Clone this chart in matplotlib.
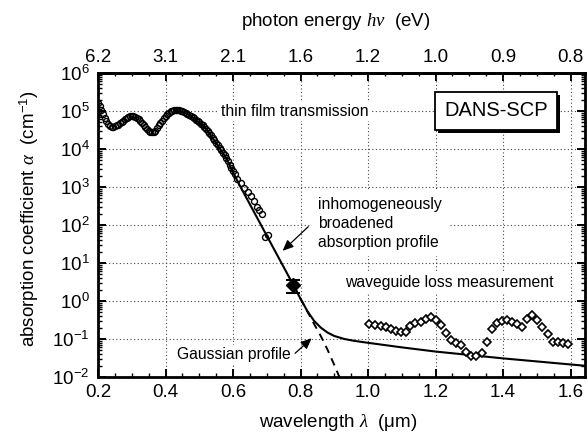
import matplotlib
matplotlib.use('Agg')
import matplotlib.pyplot as plt
import numpy as np
from matplotlib.ticker import FixedLocator, MultipleLocator, LogLocator, NullFormatter, FuncFormatter
from matplotlib import patheffects

plt.rcParams['font.family'] = ['Liberation Sans', 'DejaVu Sans']
plt.rcParams['mathtext.fontset'] = 'custom'
plt.rcParams['mathtext.rm'] = 'Liberation Sans'
plt.rcParams['mathtext.it'] = 'Liberation Serif:italic'
plt.rcParams['mathtext.bf'] = 'Liberation Sans:bold'

# ---------------- data ----------------
# thin film transmission (open circles): wavelength (um), log10(alpha / cm^-1)
film_wl = [0.200, 0.205, 0.210, 0.215, 0.220, 0.225, 0.230, 0.235, 0.240, 0.245,
           0.250, 0.255, 0.260, 0.265, 0.270, 0.275, 0.280, 0.285, 0.290, 0.295,
           0.300, 0.305, 0.310, 0.315, 0.320, 0.325, 0.330, 0.335, 0.340, 0.345,
           0.350, 0.355, 0.360, 0.365, 0.370, 0.375, 0.380, 0.385, 0.390, 0.395,
           0.400, 0.405, 0.410, 0.415, 0.420, 0.425, 0.430, 0.435, 0.440, 0.445,
           0.450, 0.455, 0.460, 0.465, 0.470, 0.475, 0.480, 0.485, 0.490, 0.495,
           0.500, 0.505, 0.510, 0.515, 0.520, 0.525, 0.530, 0.535, 0.540, 0.545,
           0.550, 0.555, 0.560, 0.565, 0.570, 0.575, 0.580, 0.585, 0.590, 0.595,
           0.600, 0.605, 0.613, 0.623, 0.634, 0.644, 0.652, 0.662, 0.672, 0.678,
           0.685, 0.695, 0.705]
film_log = [5.22, 5.12, 5.03, 4.92, 4.82, 4.73, 4.66, 4.61, 4.59, 4.59,
            4.60, 4.62, 4.64, 4.68, 4.72, 4.75, 4.78, 4.82, 4.85, 4.87,
            4.88, 4.87, 4.85, 4.82, 4.78, 4.73, 4.68, 4.63, 4.58, 4.53,
            4.48, 4.45, 4.44, 4.45, 4.48, 4.54, 4.62, 4.69, 4.75, 4.82,
            4.88, 4.92, 4.96, 4.99, 5.01, 5.02, 5.03, 5.03, 5.02, 5.01,
            4.99, 4.97, 4.95, 4.93, 4.90, 4.87, 4.84, 4.81, 4.77, 4.74,
            4.70, 4.66, 4.62, 4.58, 4.53, 4.48, 4.43, 4.37, 4.30, 4.23,
            4.16, 4.10, 4.03, 3.97, 3.90, 3.83, 3.76, 3.68, 3.59, 3.50,
            3.41, 3.34, 3.20, 3.10, 2.98, 2.88, 2.77, 2.64, 2.48, 2.39,
            2.29, 1.68, 1.74]

# inhomogeneously broadened absorption profile (solid line)
fit_wl = [0.43, 0.46, 0.49, 0.52, 0.55, 0.58, 0.60, 0.62, 0.64, 0.66, 0.68, 0.70,
          0.72, 0.74, 0.76, 0.78, 0.80, 0.82, 0.84, 0.86, 0.88, 0.90, 0.93, 0.96,
          1.00, 1.10, 1.20, 1.30, 1.40, 1.50, 1.65]
fit_log = [5.03, 4.95, 4.77, 4.53, 4.16, 3.76, 3.39, 3.04, 2.71, 2.38, 2.05, 1.72,
           1.39, 1.06, 0.73, 0.40, 0.06, -0.26, -0.52, -0.70, -0.83, -0.92, -1.00, -1.05,
           -1.10, -1.22, -1.33, -1.42, -1.51, -1.59, -1.71]

# Gaussian profile (dashed line)
gauss_wl = [0.78, 0.80, 0.82, 0.84, 0.86, 0.88, 0.90, 0.92]
gauss_log = [0.40, 0.06, -0.27, -0.60, -0.92, -1.28, -1.68, -2.10]

# waveguide loss measurement (open diamonds)
wg_wl = [1.003, 1.021, 1.038, 1.053, 1.068, 1.082, 1.097, 1.112, 1.124, 1.139,
         1.156, 1.172, 1.187, 1.201, 1.216, 1.231, 1.246, 1.261, 1.275, 1.290,
         1.305, 1.320, 1.337, 1.352, 1.366, 1.381, 1.396, 1.411, 1.426, 1.441,
         1.457, 1.472, 1.487, 1.502, 1.516, 1.532, 1.547, 1.562, 1.577, 1.593]
wg_log = [-0.61, -0.63, -0.66, -0.69, -0.74, -0.78, -0.82, -0.81, -0.66, -0.59,
          -0.55, -0.47, -0.43, -0.50, -0.64, -0.85, -1.03, -1.11, -1.16, -1.33,
          -1.45, -1.45, -1.36, -1.07, -0.74, -0.59, -0.52, -0.50, -0.55, -0.61,
          -0.69, -0.48, -0.37, -0.50, -0.69, -0.87, -1.07, -1.07, -1.10, -1.14]

# single filled point with error bar
pt_wl = [0.779]
pt_log = [0.42]
pt_log_lo = [0.20]
pt_log_hi = [0.55]

# axes ticks
x_ticks = [0.2, 0.4, 0.6, 0.8, 1.0, 1.2, 1.4, 1.6]
x_ticklabels = ['0.2', '0.4', '0.6', '0.8', '1.0', '1.2', '1.4', '1.6']
energy_labels = ['6.2', '3.1', '2.1', '1.6', '1.2', '1.0', '0.9', '0.8']
y_exponents = [-2, -1, 0, 1, 2, 3, 4, 5, 6]

# ---------------- figure ----------------
fig = plt.figure(figsize=(5.88, 4.34), dpi=100)
ax = fig.add_axes([98/588, 1-377/434, 487/588, 304/434])

ax.set_yscale('log')
ax.set_xlim(0.2, 0.2 + 487/337.5)
ax.set_ylim(10.0**y_exponents[0], 10.0**y_exponents[-1])

# data
ax.plot(fit_wl, 10.0**np.array(fit_log), '-', color='k', lw=1.5, zorder=3)
ax.plot(gauss_wl, 10.0**np.array(gauss_log), color='k', lw=1.4,
        linestyle=(0, (4, 3)), zorder=3)
ax.plot(film_wl, 10.0**np.array(film_log), 'o', ms=4.3, mfc='none', mec='k',
        mew=1.0, linestyle='none', zorder=4)
ax.plot(wg_wl, 10.0**np.array(wg_log), 'D', ms=4.0, mfc='white', mec='k',
        mew=1.2, linestyle='none', zorder=4)
py = 10.0**np.array(pt_log)
yerr = [py - 10.0**np.array(pt_log_lo), 10.0**np.array(pt_log_hi) - py]
ax.errorbar(pt_wl, py, yerr=yerr, fmt='D', color='k', ms=7, capsize=4.8,
            capthick=1.5, elinewidth=1.5, zorder=5)

# ticks
ax.xaxis.set_major_locator(FixedLocator(x_ticks))
ax.set_xticklabels(x_ticklabels)
ax.xaxis.set_minor_locator(MultipleLocator(0.05))
ax.yaxis.set_major_locator(FixedLocator([10.0**e for e in y_exponents]))
ax.yaxis.set_major_formatter(FuncFormatter(lambda v, p: r'$\mathrm{10^{%d}}$' % int(round(np.log10(v)))))
ax.yaxis.set_minor_locator(LogLocator(base=10, subs=np.arange(2, 10), numticks=20))
ax.yaxis.set_minor_formatter(NullFormatter())

ax.tick_params(axis='both', which='major', direction='in', length=6, width=1.4,
               labelsize=13.5, top=False, right=True)
ax.tick_params(axis='both', which='minor', direction='in', length=3.2, width=1.0,
               top=False, right=True)
ax.tick_params(axis='x', which='major', pad=5)
ax.tick_params(axis='y', which='major', pad=6)

grid_kw = dict(color='#444444', linewidth=0.8, linestyle=(0, (1, 2.2)))
ax.grid(True, which='major', axis='both', **grid_kw)
ax.set_axisbelow(True)

for s in ax.spines.values():
    s.set_linewidth(2)

sec = ax.secondary_xaxis('top')
sec.patch.set_visible(False)
sec.set_xticks(x_ticks)
sec.set_xticklabels(energy_labels)
sec.xaxis.set_minor_locator(MultipleLocator(0.05))
sec.tick_params(axis='x', which='major', direction='in', length=6, width=1.4,
                labelsize=13.5, pad=5)
sec.tick_params(axis='x', which='minor', direction='in', length=2.5, width=1.0)
sec.spines['top'].set_linewidth(2)

fig.text(336/588, 1 - 22/434, r'photon energy $h\nu$  (eV)', fontsize=13.5,
         ha='center', va='center')

ax.set_xlabel('wavelength $\\lambda$  (\u03bcm)', fontsize=13.5)
ax.xaxis.set_label_coords(0.494, -0.115)
ax.set_ylabel(r'absorption coefficient $\alpha$  (cm$^{\mathrm{-1}}$)', fontsize=13.5)
ax.yaxis.set_label_coords(-0.118, 0.521)

# annotations
ann_fs = 11.3
ax.text(0.782, 1e5, 'thin film transmission', fontsize=ann_fs, ha='center', va='center',
        bbox=dict(boxstyle='square,pad=0.15', fc='white', ec='none'), zorder=3)

box = ax.text(1.379, 1e5, 'DANS-SCP', fontsize=14.5, ha='center', va='center',
              bbox=dict(boxstyle='square,pad=0.45', fc='white', ec='black', lw=1.3), zorder=7)
box.get_bbox_patch().set_path_effects([
    patheffects.SimplePatchShadow(offset=(2.2, -2.2), shadow_rgbFace='black', alpha=1.0),
    patheffects.Normal()])

ax.text(0.852, 10**2.04, 'inhomogeneously\nbroadened\nabsorption profile', fontsize=ann_fs,
        ha='left', va='center', linespacing=1.3,
        bbox=dict(boxstyle='square,pad=0.4', fc='white', ec='none'), zorder=3)
ax.text(1.24, 10**0.474, 'waveguide loss measurement', fontsize=ann_fs,
        ha='center', va='center',
        bbox=dict(boxstyle='square,pad=0.25', fc='white', ec='none'), zorder=3)
ax.text(0.771, 10**-1.42, 'Gaussian profile', fontsize=ann_fs, ha='right', va='center',
        bbox=dict(boxstyle='square,pad=0.15', fc='white', ec='none'), zorder=3)

arrow_kw = dict(arrowstyle='-|>,head_length=0.5,head_width=0.22', color='k', lw=0.9,
                mutation_scale=13, shrinkA=0, shrinkB=0)
ax.annotate('', xy=(0.747, 10**1.32), xytext=(0.823, 10**1.955), arrowprops=arrow_kw, zorder=6)
ax.annotate('', xy=(0.833, 10**-0.98), xytext=(0.784, 10**-1.376), arrowprops=arrow_kw, zorder=6)

fig.savefig('out.png', dpi=100)
